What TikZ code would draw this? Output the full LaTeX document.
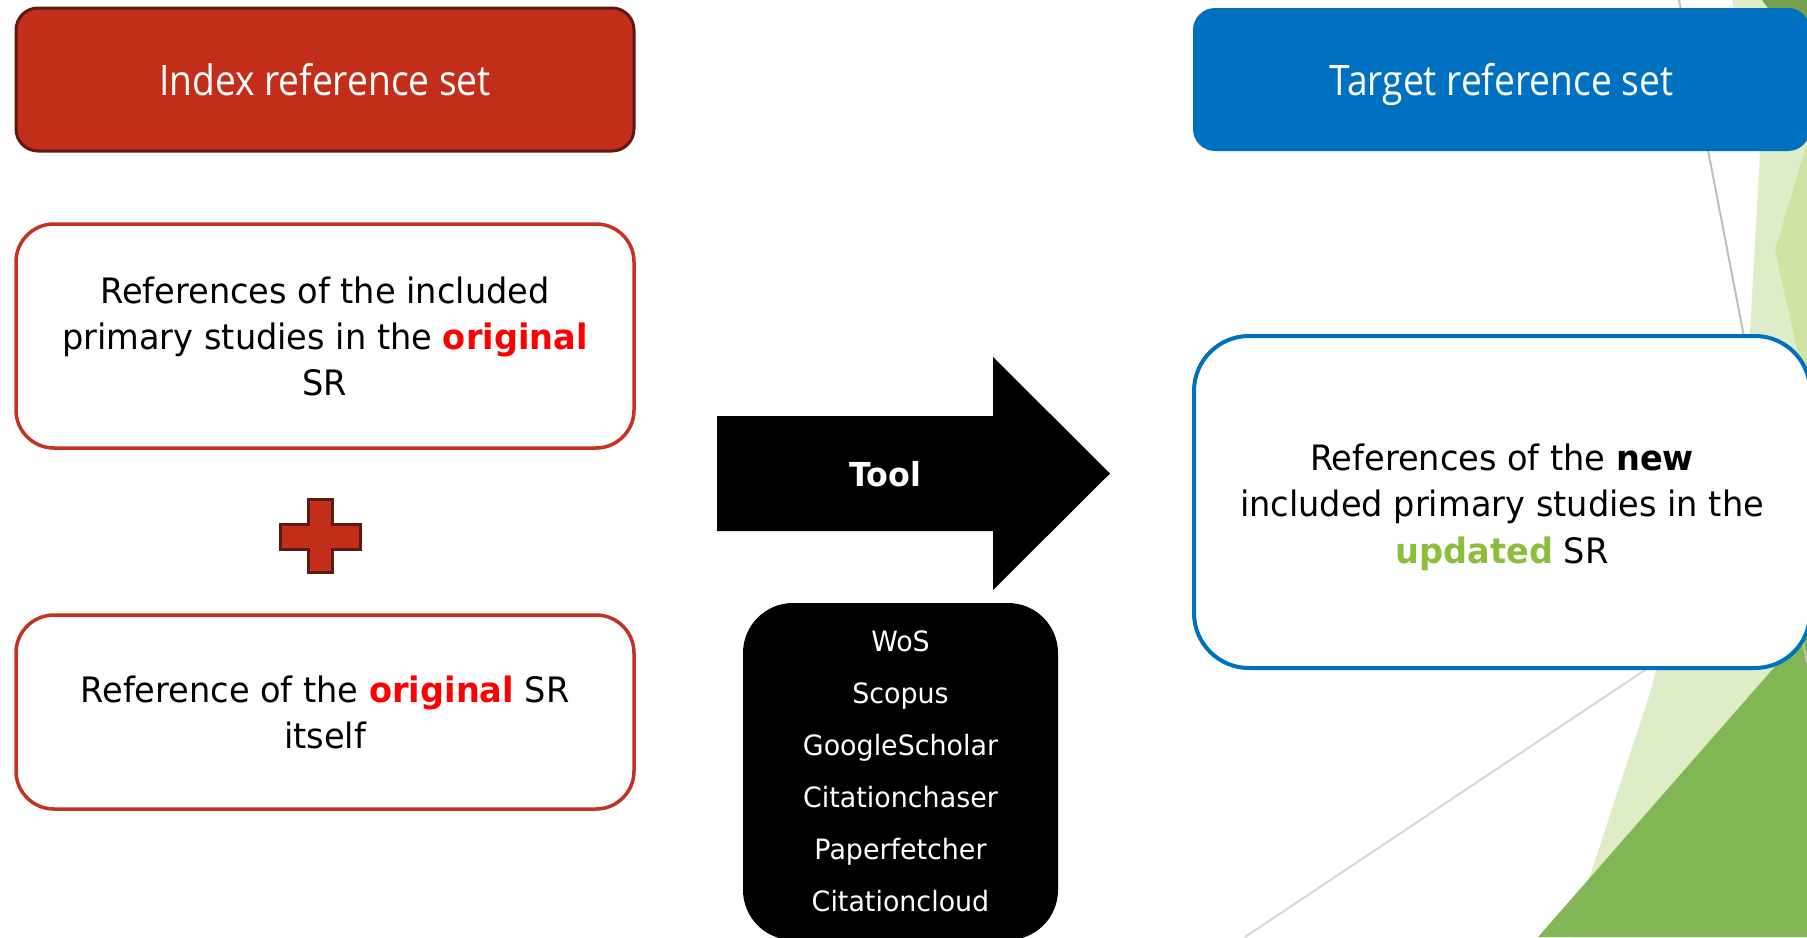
\documentclass[tikz,border=0pt]{standalone}
\usepackage{fontspec}
\setmainfont[FakeStretch=0.96]{DejaVu Sans}
\newfontfamily\headfont[FakeStretch=0.885]{Open Sans}
\definecolor{idxred}{RGB}{195,46,26}
\definecolor{idxdark}{RGB}{92,26,16}
\definecolor{boxred}{RGB}{196,50,33}
\definecolor{tblue}{RGB}{0,112,192}
\definecolor{upgreen}{RGB}{140,190,60}
\definecolor{origred}{RGB}{255,0,0}
\definecolor{gA}{RGB}{223,236,200}
\definecolor{gB}{RGB}{209,227,164}
\definecolor{gC}{RGB}{124,180,78}
\definecolor{gD}{RGB}{118,160,74}
\definecolor{lineA}{RGB}{190,190,190}
\definecolor{lineB}{RGB}{217,217,217}
\begin{document}
\begin{tikzpicture}[x=1pt,y=-1pt,
  headbox/.style={rounded corners=22pt, minimum width=618pt, minimum height=143pt,
     text=white, font=\headfont\fontsize{42}{50}\selectfont, inner sep=0pt, text depth=0pt},
  refbox/.style={rounded corners=38pt, draw=boxred, line width=3.5pt, fill=white,
     minimum width=618pt, align=center, font=\fontsize{35}{46}\selectfont, inner sep=0pt},
  tgtbox/.style={rounded corners=55pt, draw=tblue, line width=4pt, fill=white,
     minimum width=616pt, minimum height=332pt, align=center,
     font=\fontsize{35}{46.5}\selectfont, inner sep=0pt},
  listbox/.style={rounded corners=50pt, fill=black, text=white,
     minimum width=315pt, minimum height=337pt, align=center,
     font=\fontsize{28}{52}\selectfont, inner sep=0pt},
  decoline/.style={line width=2pt}
]
\useasboundingbox (0,0) rectangle (1807,937);
\clip (0,0) rectangle (1807,937);
\fill[white] (0,0) rectangle (1807,937);

% decorative green shapes
\fill[gA] (1732,0) -- (1807,0) -- (1807,937) -- (1570,937) -- (1651,690) -- (1700,500)
   -- (1750,333) -- (1760,153) -- cycle;
\fill[gB] (1807,143) -- (1775,250) -- (1807,395) -- cycle;
\fill[gD] (1762,0) -- (1807,0) -- (1807,60) -- cycle;
\fill[gC, opacity=0.95] (1538,937) -- (1807,630) -- (1807,937) -- cycle;
\draw[lineA, decoline] (1679,0) -- (1807,663);
\draw[lineB, decoline] (1245,937) -- (1660,660);

% headers
\node[headbox, fill=idxred, draw=idxdark, line width=3pt] (idx) at (325,79.5) {Index reference set};
\node[headbox, fill=tblue, minimum width=617pt] (tgt) at (1501.5,79.5) {Target reference set};

% left boxes
\node[refbox, minimum height=224pt] (orig) at (325,336)
  {References of the included\\primary studies in the \textcolor{origred}{\bfseries original}\\SR};
\node[refbox, minimum height=194pt] (self) at (325,712)
  {Reference of the \textcolor{origred}{\bfseries original} SR\\itself};

% plus sign
\draw[fill=idxred, draw=idxdark, line width=3pt, line join=miter]
  (308.5,499.5) -- (332.5,499.5) -- (332.5,524.5) -- (360.5,524.5) -- (360.5,549.5)
  -- (332.5,549.5) -- (332.5,572.5) -- (308.5,572.5) -- (308.5,549.5) -- (280.5,549.5)
  -- (280.5,524.5) -- (308.5,524.5) -- cycle;

% arrow
\fill[black] (717,416) -- (993,416) -- (993,357) -- (1110,473.5) -- (993,590)
  -- (993,531) -- (717,531) -- cycle;
\node[text=white, font=\bfseries\fontsize{33}{40}\selectfont] (tool) at (885,474) {Tool};

% tool list
\node[listbox] (list) at (900.5,771.5)
  {WoS\\Scopus\\GoogleScholar\\Citationchaser\\Paperfetcher\\Citationcloud};

% target box
\node[tgtbox] (new) at (1502,502) {};
\node[align=center, font=\fontsize{35}{46.5}\selectfont, inner sep=0pt] (newtext) at (1502,507)
  {References of the \textbf{new}\\included primary studies in the\\\textcolor{upgreen}{\bfseries updated} SR};
\end{tikzpicture}
\end{document}
